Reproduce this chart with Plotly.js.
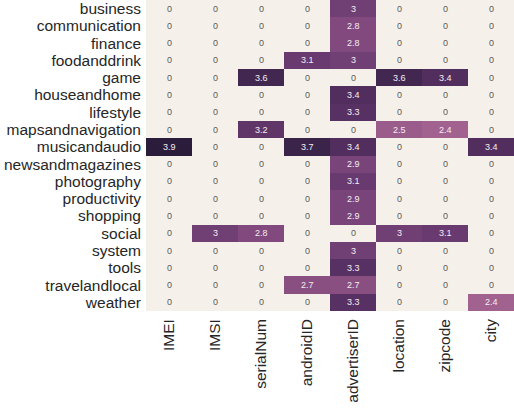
<!DOCTYPE html>
<html>
<head>
<meta charset="utf-8">
<script src="https://cdn.plot.ly/plotly-3.0.1.min.js"></script>
<style>html,body{margin:0;padding:0;background:#fff;}#chart{width:514px;height:412px;}</style>
</head>
<body>
<div id="chart"></div>
<script>
const columns = ["IMEI","IMSI","serialNum","androidID","advertiserID","location","zipcode","city"];
const categories = ["business","communication","finance","foodanddrink","game","houseandhome","lifestyle","mapsandnavigation","musicandaudio","newsandmagazines","photography","productivity","shopping","social","system","tools","travelandlocal","weather"];
const business          = [0,0,0,0,3,0,0,0];
const communication     = [0,0,0,0,2.8,0,0,0];
const finance           = [0,0,0,0,2.8,0,0,0];
const foodanddrink      = [0,0,0,3.1,3,0,0,0];
const game              = [0,0,3.6,0,0,3.6,3.4,0];
const houseandhome      = [0,0,0,0,3.4,0,0,0];
const lifestyle         = [0,0,0,0,3.3,0,0,0];
const mapsandnavigation = [0,0,3.2,0,0,2.5,2.4,0];
const musicandaudio     = [3.9,0,0,3.7,3.4,0,0,3.4];
const newsandmagazines  = [0,0,0,0,2.9,0,0,0];
const photography       = [0,0,0,0,3.1,0,0,0];
const productivity      = [0,0,0,0,2.9,0,0,0];
const shopping          = [0,0,0,0,2.9,0,0,0];
const social            = [0,3,2.8,0,0,3,3.1,0];
const system            = [0,0,0,0,3,0,0,0];
const tools             = [0,0,0,0,3.3,0,0,0];
const travelandlocal    = [0,0,0,2.7,2.7,0,0,0];
const weather           = [0,0,0,0,3.3,0,0,2.4];

const z = [business,communication,finance,foodanddrink,game,houseandhome,lifestyle,mapsandnavigation,musicandaudio,newsandmagazines,photography,productivity,shopping,social,system,tools,travelandlocal,weather];

const colorscale = [
  [0, "#f6f0eb"],
  [0.2, "#ebd3cf"],
  [0.4, "#d3a2b3"],
  [0.55, "#b3779d"],
  [0.62, "#a0618f"],
  [0.7, "#874d80"],
  [0.77, "#703f74"],
  [0.85, "#573063"],
  [0.92, "#432851"],
  [1, "#2b1c3c"]
];

const annotations = [];
z.forEach((row, i) => {
  row.forEach((v, j) => {
    annotations.push({
      x: columns[j], y: categories[i], text: String(v), showarrow: false,
      font: {family: "Liberation Sans, Arial, sans-serif", size: 9, color: v > 1.5 ? "#f4eef2" : "#5a5a5a"}
    });
  });
});

const trace = {
  type: "heatmap", x: columns, y: categories, z: z,
  colorscale: colorscale, zmin: 0, zmax: 3.9, showscale: false,
  hoverongaps: false
};

const layout = {
  width: 514, height: 412,
  margin: {l: 146, r: 0, t: 0, b: 101, pad: 0},
  paper_bgcolor: "#ffffff", plot_bgcolor: "#ffffff",
  font: {family: "Liberation Sans, Arial, sans-serif", size: 15.5, color: "#262626"},
  xaxis: {tickangle: -90, showgrid: false, zeroline: false, ticks: "", showline: false,
          tickmode: "array", tickvals: columns, ticktext: columns,
          tickfont: {size: 15.5, color: "#262626"}, ticklabelstandoff: 4},
  yaxis: {autorange: "reversed", showgrid: false, zeroline: false, ticks: "", showline: false,
          tickmode: "array", tickvals: categories, ticktext: categories,
          tickfont: {size: 15.5, color: "#262626"}, ticklabelstandoff: 4},
  annotations: annotations
};

Plotly.newPlot("chart", [trace], layout, {displayModeBar: false, staticPlot: true});
</script>
</body>
</html>
